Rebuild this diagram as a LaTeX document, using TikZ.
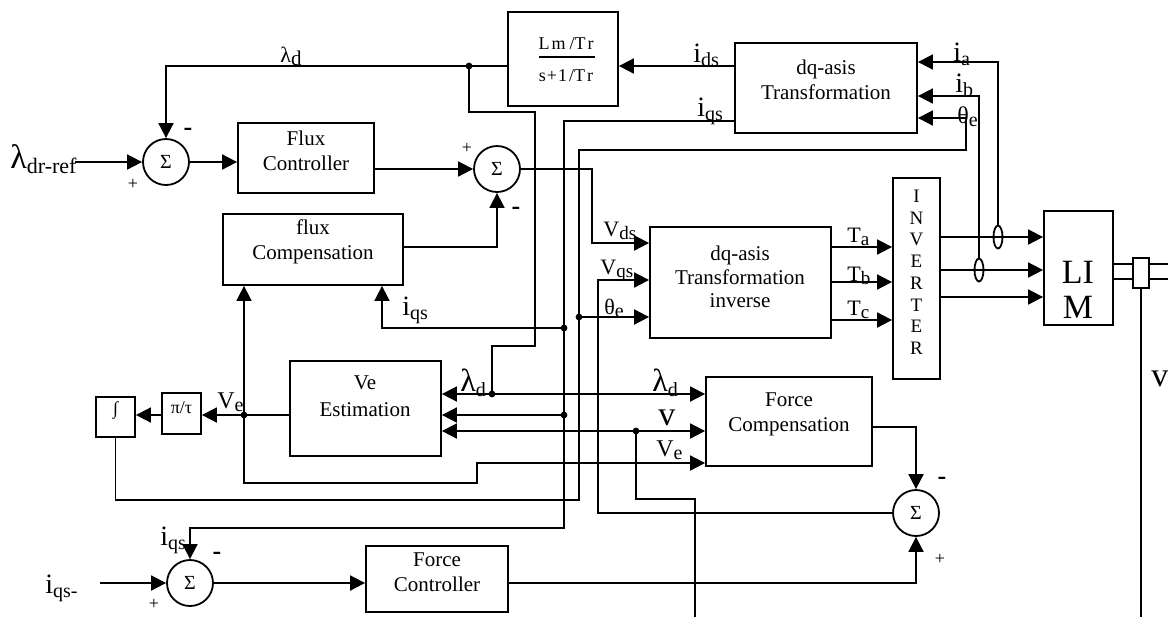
\documentclass[tikz,border=0pt]{standalone}
\usepackage{fontspec}
\setmainfont{Liberation Serif}
\usetikzlibrary{arrows.meta,fit,shapes.geometric}
\newcommand\sbs[2][10]{\raisebox{-0.35ex}{\fontsize{#1}{#1}\selectfont #2}}
\tikzset{
  wire/.style={line width=0.9pt},
  arr/.style={line width=0.9pt,-{Triangle[length=7.5pt,width=7.5pt]}},
  blk/.style={draw,line width=0.9pt,inner sep=0pt,align=center,font=\fontsize{10.5}{12.5}\selectfont},
  txt/.style={inner sep=0pt,align=center,font=\fontsize{10.5}{12.5}\selectfont},
  sumc/.style={draw,circle,line width=0.9pt,minimum size=23pt,inner sep=0pt,font=\fontsize{10}{10}\selectfont},
  dot/.style={circle,fill,inner sep=0pt,minimum size=3.4pt},
  lbl/.style={inner sep=0pt,anchor=base west,font=\fontsize{11}{11}\selectfont},
  mlbl/.style={inner sep=0pt,anchor=base west,font=\fontsize{12}{12}\selectfont},
  blbl/.style={inner sep=0pt,anchor=base west,font=\fontsize{14}{14}\selectfont},
  sgn/.style={inner sep=0pt,font=\fontsize{9}{9}\selectfont},
  neg/.style={inner sep=0pt,font=\bfseries\fontsize{13}{13}\selectfont},
  sens/.style={draw,ellipse,line width=0.9pt,minimum width=4.5pt,minimum height=11.5pt,inner sep=0pt},
}
\begin{document}
\begin{tikzpicture}[x=0.5pt,y=-0.5pt]
\useasboundingbox (0,0) rectangle (1168,617);

% ---------- blocks ----------
\node[blk,fit={(238,123)(374,193)}] (fc) {Flux\\Controller};
\node[blk,fit={(223,214)(403,285)}] (fcp) {flux\\Compensation};
\node[blk,fit={(508,12)(618,106)}] (lm) {};
\node[inner sep=0pt,font=\fontsize{9}{9}\selectfont] (lmt) at (566,44) {L\kern1pt m\kern2pt/T\kern1pt r};
\draw[line width=0.6pt] (539,57) -- (595,57);
\node[inner sep=0pt,font=\fontsize{9}{9}\selectfont] (lmb) at (566,76) {s\kern0.5pt+\kern0.5pt1\kern1pt/T\kern1pt r};
\node[blk,fit={(735,43)(917,133)}] (dq) {};
\node[txt] (dqt) at (826,80) {dq-asis\\Transformation};
\node[blk,fit={(650,227)(831,338)}] (dqi) {};
\node[txt,font=\fontsize{10.5}{11.8}\selectfont] (dqit) at (740,277) {dq-asis\\Transformation\\inverse};
\node[blk,fit={(893,178)(940,379)},font=\fontsize{9.5}{10.85}\selectfont] (inv) {I\\N\\V\\E\\R\\T\\E\\R};
\node[blk,fit={(1044,211)(1113,325)}] (lim) {};
\node[txt,font=\fontsize{17}{17.5}\selectfont] (limt) at (1078,290) {LI\\M};
\node[blk,fit={(290,361)(441,456)}] (ve) {};
\node[txt,font=\fontsize{10.5}{13.5}\selectfont] (vet) at (365,396) {Ve\\Estimation};
\node[blk,fit={(706,377)(872,466)}] (fcomp) {Force\\Compensation};
\node[blk,fit={(366,546)(508,612)}] (fctl) {Force\\Controller};
\node[blk,fit={(162,393)(201,434)},font=\fontsize{9}{9}\selectfont] (pt) {π/τ};
\node[blk,fit={(96,397)(135,437)},font=\fontsize{9}{9}\selectfont] (int) {∫};
\node[draw,line width=0.9pt,inner sep=0pt,fit={(1133,258)(1149,288)}] (sen) {};

% ---------- summing junctions ----------
\node[sumc] (s1) at (166,162) {Σ};
\node[sumc] (s2) at (497,169) {Σ};
\node[sumc] (s3) at (190,583) {Σ};
\node[sumc] (s4) at (916,513) {Σ};

% ---------- junction dots ----------
\node[dot] (d1) at (469,66) {};
\node[dot] (d2) at (492,394) {};
\node[dot] (d3) at (564,328) {};
\node[dot] (d4) at (564,415) {};
\node[dot] (d5) at (579,317) {};
\node[dot] (d6) at (244,415) {};
\node[dot] (d7) at (636,431) {};

% ---------- free ends ----------
\coordinate (inr) at (75,162);
\coordinate (iqin) at (100,583);
\coordinate (vb1) at (695,617);
\coordinate (vb2) at (1141,617);
\coordinate (sh1) at (1168,264);
\coordinate (sh2) at (1168,279);

% ---------- connectors ----------
% flux loop
\draw[arr] (inr) -- (s1.west);
\draw[arr] (s1.east) -- (fc.west |- s1.east);
\draw[arr] (fc.east |- s2.west) -- (s2.west);
\draw[arr] (fcp.east |- 0,247) -- (s2.south |- 0,247) -- (s2.south);
\draw[arr] (s2.east) -- (592,169) -- (592,243) -- (dqi.west |- 0,243);
% i_ds -> Lm/Tr -> lambda_d
\draw[arr] (dq.west |- 0,66) -- (lm.east |- 0,66);
\draw[arr] (lm.west |- 0,66) -- (s1.north |- 0,66) -- (s1.north);
\draw[wire] (d1.center) -- (469,112) -- (535,112) -- (535,346) -- (492,346) -- (d2.center);
\draw[arr] (d2.center) -- (ve.east |- d2);
\draw[arr] (d2.center) -- (fcomp.west |- d2);
% i_qs
\draw[arr] (dq.west |- 0,121) -- (564,121) -- (564,528) -- (s3.north |- 0,528) -- (s3.north);
\draw[arr] (d3.center) -- (382,328) -- (fcp.south -| 382,0);
\draw[arr] (d4.center) -- (ve.east |- d4);
% theta_e
\draw[arr] (int.south) -- (int.south |- 0,500) -- (579,500) -- (579,150) -- (966,150) -- (966,118) -- (dq.east |- 0,118);
\draw[arr] (d5.center) -- (dqi.west |- d5);
% Ve
\draw[arr] (ve.west |- 0,415) -- (pt.east |- 0,415);
\draw[arr] (pt.west |- 0,415) -- (int.east |- 0,415);
\draw[arr] (d6.center) -- (fcp.south -| d6);
\draw[arr] (d6.center) -- (244,483) -- (477,483) -- (477,463) -- (fcomp.west |- 0,463);
% v
\draw[arr] (d7.center) -- (ve.east |- d7);
\draw[arr] (d7.center) -- (fcomp.west |- d7);
\draw[wire] (d7.center) -- (636,499) -- (695,499) -- (vb1);
% force loop
\draw[arr] (iqin) -- (s3.west);
\draw[arr] (s3.east) -- (fctl.west |- s3.east);
\draw[arr] (fctl.east |- s3.east) -- (s4.south |- s3.east) -- (s4.south);
\draw[arr] (fcomp.east |- 0,427) -- (s4.north |- 0,427) -- (s4.north);
\draw[arr] (s4.west) -- (598,513) -- (598,280) -- (dqi.west |- 0,280);
% to inverter and LIM
\foreach \yy in {247,282,320} \draw[arr] (dqi.east |- 0,\yy) -- (inv.west |- 0,\yy);
\foreach \yy in {237,270,297} \draw[arr] (inv.east |- 0,\yy) -- (lim.west |- 0,\yy);
\node[sens] (ea) at (998,237) {};
\node[sens] (eb) at (979,270) {};
\draw[arr] (ea.north) -- (998,62) -- (dq.east |- 0,62);
\draw[arr] (eb.north) -- (979,96) -- (dq.east |- 0,96);
% shaft and speed sensor
\draw[wire] (lim.east |- 0,264) -- (sen.west |- 0,264);
\draw[wire] (lim.east |- 0,279) -- (sen.west |- 0,279);
\draw[wire] (sen.east |- sh1) -- (sh1);
\draw[wire] (sen.east |- sh2) -- (sh2);
\draw[wire] (sen.south) -- (vb2);

% ---------- labels ----------
\node[inner sep=0pt,anchor=base west] (l1) at (10,168) {\fontsize{17}{17}\selectfont λ\sbs[11]{dr-ref}};
\node[lbl] (l2) at (280,62) {λ\sbs[10.5]{d}};
\node[blbl] (l3) at (693,62) {i\sbs{ds}};
\node[blbl] (l4) at (697,116) {i\sbs{qs}};
\node[blbl] (l5) at (953,61) {i\sbs{a}};
\node[blbl] (l6) at (955,92) {i\sbs{b}};
\node[mlbl] (l7) at (957,123) {θ\sbs{e}};
\node[lbl] (l8) at (603,236) {V\sbs[9.5]{ds}};
\node[lbl] (l9) at (600,274) {V\sbs[9.5]{qs}};
\node[lbl] (l10) at (604,314) {θ\sbs{e}};
\node[lbl] (l11) at (847,242) {T\sbs[9.5]{a}};
\node[lbl] (l12) at (847,281) {T\sbs[9.5]{b}};
\node[lbl] (l13) at (847,315) {T\sbs[9.5]{c}};
\node[blbl] (l14) at (402,315) {i\sbs{qs}};
\node[mlbl] (l15) at (217,408) {V\sbs{e}};
\node[inner sep=0pt,anchor=base west] (l16) at (460,391) {\fontsize{16}{16}\selectfont λ\sbs{d}};
\node[inner sep=0pt,anchor=base west] (l17) at (652,391) {\fontsize{16}{16}\selectfont λ\sbs{d}};
\node[inner sep=0pt,anchor=base west,font=\fontsize{17}{17}\selectfont] (l18) at (658,425) {v};
\node[mlbl] (l19) at (656,456) {V\sbs{e}};
\node[inner sep=0pt,anchor=base west,font=\fontsize{17}{17}\selectfont] (l20) at (1151,386) {v};
\node[blbl] (l21) at (160,545) {i\sbs{qs}};
\node[blbl] (l22) at (45,593) {i\sbs{qs-}};
% signs
\node[neg] (n1) at (188,132) {-};
\node[sgn] (p1) at (133,184) {+};
\node[sgn] (p2) at (467,148) {+};
\node[neg] (n2) at (516,211) {-};
\node[neg] (n3) at (217,556) {-};
\node[sgn] (p3) at (154,604) {+};
\node[neg] (n4) at (942,481) {-};
\node[sgn] (p4) at (940,559) {+};
\end{tikzpicture}
\end{document}
